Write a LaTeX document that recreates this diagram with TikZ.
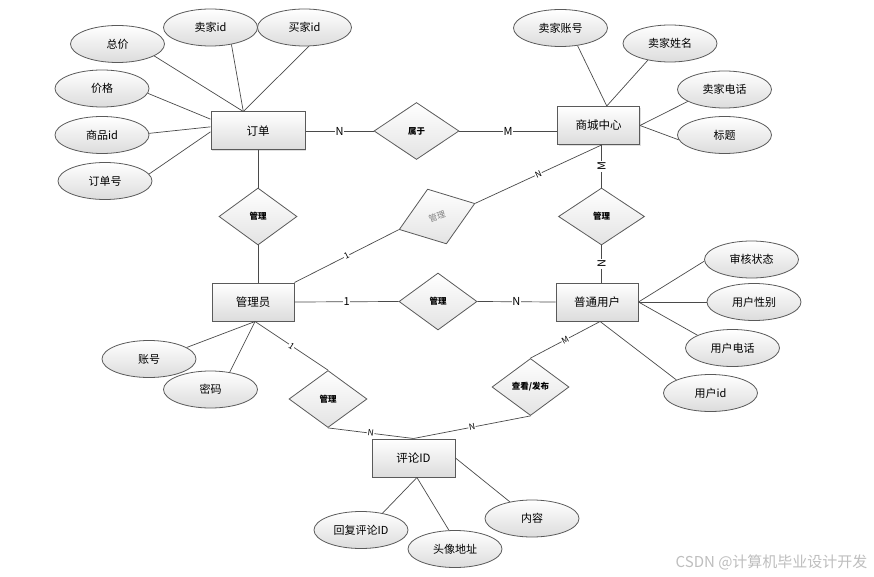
\documentclass[tikz,border=0pt]{standalone}
\usepackage{fontspec}
\setmainfont{Noto Sans CJK SC}
\usetikzlibrary{shapes.geometric,shadows}
\definecolor{edgec}{HTML}{4A4A4A}
\definecolor{bordc}{HTML}{5A5A5A}
\definecolor{fillb}{HTML}{DCDCDC}
\definecolor{wmark}{HTML}{BEBEBE}
\tikzset{
  entbox/.style={draw=bordc, line width=1pt, top color=white, bottom color=fillb,
    minimum width=82pt, minimum height=38pt, inner sep=0pt,
    drop shadow={shadow xshift=1.2pt, shadow yshift=-1.2pt, opacity=0.25},
    font=\fontsize{11.5}{12}\selectfont},
  relbox/.style={diamond, draw=bordc, line width=0.8pt, top color=white, bottom color=fillb!80,
    minimum height=57pt, inner sep=0pt, aspect=1.4,
    font=\fontsize{8.5}{9}\selectfont\bfseries},
  attrib/.style={ellipse, draw=bordc, line width=0.8pt, top color=white, bottom color=fillb,
    minimum width=94pt, minimum height=37pt, inner sep=0pt,
    font=\fontsize{11}{12}\selectfont},
  conn/.style={draw=edgec, line width=0.7pt},
  lab/.style={fill=white, inner sep=0.8pt, font=\fontsize{11}{12}\selectfont},
  slab/.style={fill=white, inner sep=0.6pt, sloped, font=\fontsize{8.5}{9}\selectfont},
}
\begin{document}
\begin{tikzpicture}[x=1pt,y=-1pt]
\useasboundingbox (0,0) rectangle (874,577);
\fill[white] (0,0) rectangle (874,577);

% entities
\node[entbox, minimum width=94pt] (order) at (258,131) {订单};
\node[entbox] (mall) at (598.5,125.5) {商城中心};
\node[entbox] (admin) at (253,302) {管理员};
\node[entbox] (user) at (597,302) {普通用户};
\node[entbox, minimum width=83pt] (comment) at (413.5,458) {评论ID};

% relationships
\node[relbox, minimum width=85pt] (shuyu) at (416.5,131) {属于};
\node[relbox, minimum width=78pt] (g1) at (258,216.5) {管理};
\node[relbox, minimum width=80pt, minimum height=58pt, rotate=19, text=gray, font=\fontsize{8.5}{9}\selectfont] (g2) at (437,216.5) {管理};
\node[relbox, minimum width=86pt] (g3) at (601.5,216.5) {管理};
\node[relbox, minimum width=78pt] (g4) at (438,301.5) {管理};
\node[relbox, minimum width=78pt] (g5) at (328,399) {管理};
\node[relbox, minimum width=77pt] (ck) at (530.5,387) {查看/发布};

% attributes
\node[attrib] (zongjia) at (117.5,44) {总价};
\node[attrib] (sellerid) at (210.5,27.5) {卖家id};
\node[attrib] (buyerid) at (304.5,27.5) {买家id};
\node[attrib] (price) at (102,88.5) {价格};
\node[attrib] (prodid) at (102,135) {商品id};
\node[attrib] (orderno) at (105,181) {订单号};

\node[attrib] (sacct) at (560.5,28) {卖家账号};
\node[attrib] (sname) at (670,43.5) {卖家姓名};
\node[attrib] (sphone) at (724.5,89.5) {卖家电话};
\node[attrib] (title) at (724.5,135) {标题};

\node[attrib] (audit) at (751.5,259.5) {审核状态};
\node[attrib] (gender) at (754,302) {用户性别};
\node[attrib] (uphone) at (732.5,348) {用户电话};
\node[attrib] (uid) at (710.5,393) {用户id};

\node[attrib] (acct) at (149,359) {账号};
\node[attrib] (pwd) at (210.5,389.5) {密码};

\node[attrib] (reply) at (361,530) {回复评论ID};
\node[attrib] (avatar) at (455,549) {头像地址};
\node[attrib] (content) at (532,518.5) {内容};

% attribute connectors
\draw[conn] (zongjia.-18) -- (order.127);
\draw[conn] (sellerid.-39) -- (order.127);
\draw[conn] (buyerid.-77) -- (order.127);
\draw[conn] (price.-6.5) -- (order.166.5);
\draw[conn] (prodid.2.4) -- (order.175);
\draw[conn] (orderno.9.7) -- (order.181);

\draw[conn] (sacct.-46) -- (mall.67);
\draw[conn] (sname.-143.5) -- (mall.67);
\draw[conn] (sphone.-162.4) -- (mall.east);
\draw[conn] (title.-174) -- (mall.east);

\draw[conn] (audit.182) -- (user.east);
\draw[conn] (gender.180) -- (user.east);
\draw[conn] (uphone.160.8) -- (user.east);
\draw[conn] (uid.159.5) -- (user.-81);

\draw[conn] (acct.17.5) -- (admin.-84);
\draw[conn] (pwd.42.6) -- (admin.-84);

\draw[conn] (reply.38) -- (comment.-80);
\draw[conn] (avatar.108) -- (comment.-80);
\draw[conn] (content.143.5) -- (comment.east);

% relationship connectors
\coordinate (mallb) at (g3.north |- mall.south);
\draw[conn] (order.east) -- node[lab]{N} (shuyu.west);
\draw[conn] (shuyu.east) -- node[lab]{M} (shuyu.east -| mall.west);
\draw[conn] (order.south) -- (g1.north);
\draw[conn] (g1.south) -- (g1.south |- admin.north);
\draw[conn] (admin.north east) -- node[slab]{1} (g2.west);
\draw[conn] (g2.east) -- node[slab]{N} (mallb);
\draw[conn] (mallb) -- node[lab, rotate=90]{M} (g3.north);
\draw[conn] (g3.south) -- node[lab, rotate=90]{N} (g3.south |- user.north);
\draw[conn] (admin.east) -- node[lab]{1} (g4.west);
\draw[conn] (g4.east) -- node[lab]{N} (user.west);
\draw[conn] (admin.-84) -- node[slab]{1} (g5.north);
\draw[conn] (g5.south) -- node[slab]{N} (comment.north);
\draw[conn] (user.-81) -- node[slab]{M} (ck.north);
\draw[conn] (ck.south) -- node[slab]{N} (comment.north);

% watermark
\node[text=wmark, font=\fontsize{15}{16}\selectfont, anchor=east] (wm) at (871,562) {CSDN @计算机毕业设计开发};
\end{tikzpicture}
\end{document}
